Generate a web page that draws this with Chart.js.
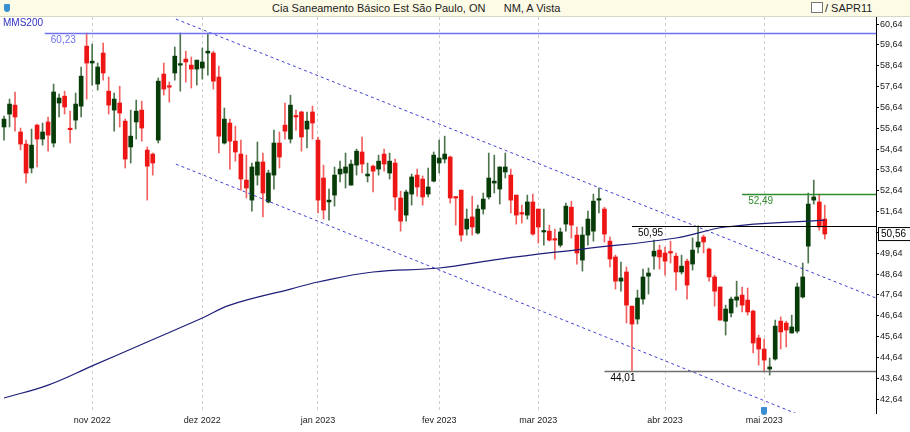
<!DOCTYPE html>
<html>
<head>
<meta charset="utf-8">
<script src="https://cdn.jsdelivr.net/npm/chart.js@4"></script>
<style>
  body { margin: 0; background: #fff; font-family: "Liberation Sans", Arial, sans-serif; }
  #wrap { position: relative; width: 910px; height: 432px; }
  #titleBar { position: absolute; left: 0; top: 0; width: 910px; height: 16px; background: #fdfbe6; border-bottom: 1px solid #d8d8c8; font-size: 11px; color: #222; }
  #titleBar .t { position: absolute; left: 272px; top: 2px; white-space: pre; }
  #titleBar .r { position: absolute; left: 811px; top: 2px; }
  #titleBar .box { display: inline-block; width: 10px; height: 9px; border: 1px solid #777; background: #fff; vertical-align: -1px; margin-right: 2px; }
  #mms { position: absolute; left: 3px; top: 17px; font-size: 10px; color: #3030c0; }
  .shield { position: absolute; width: 6px; height: 8px; background: #3a8fd0; border-radius: 1px 1px 3px 3px; }
</style>
</head>
<body>
<div id="wrap">
  <canvas id="chart" width="910" height="432"></canvas>
  <div id="titleBar">
    <span class="shield" style="left:4px;top:4px"></span>
    <span class="t">Cia Saneamento Básico Est São Paulo, ON      NM, A Vista</span>
    <span class="r"><span class="box"></span>/ SAPR11</span>
  </div>
  <div id="mms">MMS200</div>
  <span class="shield" style="left:761px;top:407px"></span>
</div>
<script>
// Cotações diárias SAPR11 (abertura, máxima, mínima, fechamento)
const opens = [55.70,56.32,56.75,55.46,54.88,53.73,55.79,55.12,55.94,54.93,
  56.85,57.18,55.62,56.03,56.70,59.58,58.77,57.76,59.25,57.42,
  56.51,56.85,55.98,54.74,55.94,56.51,54.59,54.40,55.07,58.24,
  57.66,58.29,58.67,58.96,58.67,58.48,58.53,59.25,59.25,58.10,
  54.93,55.89,55.02,54.40,53.15,52.19,53.39,54.02,52.10,53.39,
  54.93,55.79,55.12,56.22,56.42,55.60,56.42,55.07,53.25,52.10,
  52.43,53.44,53.49,52.91,53.87,54.50,53.35,53.82,53.68,54.40,
  53.49,53.97,52.29,51.47,52.48,53.39,53.20,52.48,53.10,53.97,
  54.16,54.26,52.34,52.67,50.80,51.38,50.61,51.76,52.34,53.01,
  52.72,53.54,53.39,52.43,51.57,51.47,52.10,51.76,50.66,50.70,
  50.32,50.03,51.04,51.85,50.51,49.31,50.51,50.70,52.19,51.76,
  50.22,49.46,48.30,48.74,47.10,46.48,47.44,48.54,49.50,49.79,
  49.65,49.70,49.50,48.74,49.26,49.12,49.94,50.42,49.84,48.50,
  48.02,46.38,46.77,47.39,47.63,47.39,46.86,45.57,45.04,44.08,
  44.56,46.38,46.29,45.81,45.90,47.54,49.98,52.19,52.10,51.28];
const closes = [56.08,56.80,56.18,54.88,53.49,54.83,55.12,55.46,55.31,57.38,
  57.09,56.66,55.57,56.80,58.14,58.77,58.86,58.58,58.29,56.75,
  57.04,56.37,54.16,55.26,56.46,55.65,53.82,53.97,57.90,57.52,
  57.61,59.10,58.72,58.82,58.48,58.91,58.82,59.34,57.90,55.26,
  56.08,55.02,54.50,53.20,52.77,53.78,54.02,52.53,53.49,54.93,
  54.26,55.50,56.75,56.18,55.22,55.98,55.89,52.19,51.71,52.19,
  53.39,53.68,53.78,53.92,54.54,53.92,53.44,53.58,54.06,53.92,
  54.06,52.34,51.18,52.58,53.30,52.82,52.34,52.82,54.35,54.21,
  54.40,52.29,52.29,50.51,51.28,50.90,51.76,52.24,53.25,53.10,
  53.78,53.78,52.19,51.47,51.52,52.10,50.56,50.90,50.70,50.27,
  50.27,50.66,51.90,50.99,49.65,50.51,51.28,52.14,52.24,50.56,
  49.36,48.30,48.45,47.15,46.24,47.49,48.50,48.69,49.74,49.46,
  49.26,49.65,48.74,49.02,48.11,49.79,50.18,50.18,48.50,47.82,
  46.43,46.96,47.44,47.54,47.15,46.82,45.33,45.04,44.51,44.18,
  46.14,45.86,45.95,46.10,48.02,48.50,52.00,52.34,50.90,50.56];
const highs = [56.22,57.04,57.38,55.65,55.07,55.60,55.84,55.89,56.18,57.76,
  57.28,57.42,56.46,57.33,58.58,60.21,59.68,58.77,59.73,58.10,
  57.33,57.66,56.08,56.51,56.99,56.94,54.74,54.45,58.05,58.77,
  57.86,59.54,60.21,59.34,59.06,58.91,59.49,60.21,59.34,58.62,
  56.61,56.08,55.74,55.07,54.35,53.97,54.98,54.45,53.63,55.55,
  55.46,56.85,57.23,56.51,56.46,56.42,56.70,55.22,53.87,52.72,
  53.78,54.06,54.45,54.11,54.64,55.22,53.97,53.87,54.35,54.64,
  54.45,54.16,52.62,52.67,53.44,53.68,53.35,53.73,54.50,55.07,
  55.26,54.30,52.34,52.67,51.76,52.38,51.95,52.53,54.45,54.35,
  53.78,54.45,53.68,52.43,51.95,52.43,52.48,51.76,51.76,50.99,
  50.80,50.85,52.05,52.14,50.90,50.90,51.66,52.48,52.77,51.85,
  50.42,49.55,49.22,48.98,47.10,47.87,48.88,48.93,50.27,50.03,
  49.94,50.22,49.65,49.55,49.36,50.37,50.95,50.51,49.89,48.59,
  48.02,47.15,47.54,48.30,48.02,47.97,46.91,45.71,45.52,44.61,
  46.43,46.58,46.38,46.67,48.21,49.17,52.53,53.15,52.48,51.95];
const lows = [55.07,55.70,55.50,54.60,53.01,53.49,53.78,54.83,54.54,54.74,
  56.18,56.32,54.93,55.60,56.18,57.04,57.71,57.47,57.95,56.32,
  55.50,55.70,53.73,53.97,55.12,55.02,52.19,53.39,54.93,57.23,
  56.90,57.95,57.42,57.86,57.57,57.71,58.00,58.19,57.52,54.45,
  54.88,53.68,54.06,52.67,52.29,51.66,52.91,51.38,52.05,52.72,
  53.73,55.12,54.93,55.55,54.54,54.69,55.12,51.57,51.28,51.23,
  51.90,53.06,52.77,52.91,53.39,53.49,53.06,52.58,53.39,53.58,
  53.20,51.71,50.70,51.18,51.95,52.38,51.95,52.34,53.06,53.49,
  53.97,52.05,50.99,50.22,50.51,50.51,50.56,51.52,52.24,52.53,
  52.00,53.25,51.57,51.04,51.09,51.28,50.51,50.13,50.03,50.22,
  49.36,49.94,50.70,50.37,49.12,48.78,50.03,50.22,51.57,50.18,
  48.98,47.92,47.82,46.29,44.01,46.24,47.20,47.68,48.88,48.88,
  48.59,49.17,47.87,48.64,47.44,48.83,49.65,49.65,48.30,47.10,
  46.43,45.71,46.58,47.06,46.82,46.67,44.85,44.27,43.94,43.79,
  44.51,45.04,45.14,45.81,45.81,47.49,49.17,52.00,50.75,50.32];

// Média móvel de 200 períodos
const mmsIndex = [0, 8, 16, 26, 36, 41, 52, 57, 67, 79, 90, 105, 122, 131, 149];
const mmsValues = [42.69, 43.31, 44.23, 45.38, 46.53, 47.15, 47.92, 48.26, 48.74, 48.93, 49.36, 49.84, 50.37, 50.90, 51.23];

// Canal de tendência (LTB)
const upperChannel = [{ x: 31.2, y: 60.88 }, { x: 158.3, y: 47.49 }];
const lowerChannel = [{ x: 31.2, y: 53.92 }, { x: 144.5, y: 41.87 }];

// Níveis horizontais
const levelValues = [60.23, 52.49, 50.95, 44.01];
const levelStart = [7.4, 134, 114, 109];
const levelColors = ['#6f6ff0', '#2e8b2e', '#000000', '#707070'];
const lastPrice = 50.56;

// Eixos
const monthIndex = [16, 36, 57, 79, 97, 120, 138];
const monthLabels = ['nov 2022', 'dez 2022', 'jan 2023', 'fev 2023', 'mar 2023', 'abr 2023', 'mai 2023'];
const yTicks = [42.64, 43.64, 44.64, 45.64, 46.64, 47.64, 48.64, 49.64, 50.64, 51.64, 52.64, 53.64, 54.64, 55.64, 56.64, 57.64, 58.64, 59.64, 60.64];

const fmt = v => v.toFixed(2).replace('.', ',');
const isUp = opens.map((o, i) => closes[i] >= o);

const levelsPlugin = {
    id: 'levels',
    afterDatasetsDraw(chart) {
        const ctx = chart.ctx;
        const xs = chart.scales.x, ys = chart.scales.y;
        const area = chart.chartArea;
        ctx.save();
        ctx.font = '10px "Liberation Sans", Arial, sans-serif';
        ctx.textBaseline = 'top';
        levelValues.forEach((v, i) => {
            const y = Math.round(ys.getPixelForValue(v)) + 0.5;
            const x0 = xs.getPixelForValue(levelStart[i]);
            ctx.strokeStyle = levelColors[i];
            ctx.lineWidth = i === 2 ? 1 : 1.5;
            ctx.beginPath();
            ctx.moveTo(x0, y);
            ctx.lineTo(area.right, y);
            ctx.stroke();
            ctx.fillStyle = i === 3 ? '#000' : levelColors[i];
            ctx.fillText(fmt(v), x0 + 6, y + 2);
        });
        // caixa do último preço
        const yp = ys.getPixelForValue(lastPrice);
        ctx.fillStyle = '#fff';
        ctx.strokeStyle = '#000';
        ctx.lineWidth = 1;
        ctx.fillRect(area.right + 2.5, yp - 6.5, 32, 13);
        ctx.strokeRect(area.right + 2.5, yp - 6.5, 32, 13);
        ctx.fillStyle = '#000';
        ctx.textBaseline = 'middle';
        ctx.fillText(fmt(lastPrice), area.right + 5, yp);
        ctx.restore();
    }
};

new Chart(document.getElementById('chart'), {
    type: 'bar',
    data: {
        datasets: [
            {
                type: 'line', data: mmsIndex.map((x, i) => ({ x, y: mmsValues[i] })),
                borderColor: '#1e1e7a', borderWidth: 1.2, pointRadius: 0, tension: 0.4, order: 0
            },
            {
                type: 'line', data: upperChannel, borderColor: '#4040d0', borderWidth: 1,
                borderDash: [3, 3], pointRadius: 0, order: 0
            },
            {
                type: 'line', data: lowerChannel, borderColor: '#4040d0', borderWidth: 1,
                borderDash: [3, 3], pointRadius: 0, order: 0
            },
            {
                data: lows.map((l, i) => ({ x: i, y: [l, highs[i]] })),
                backgroundColor: isUp.map(u => u ? '#4f754f' : '#f26060'),
                barThickness: 1, grouped: false, order: 2
            },
            {
                data: opens.map((o, i) => ({ x: i, y: [o, closes[i]] })),
                backgroundColor: isUp.map(u => u ? '#073b07' : '#ee1515'),
                barThickness: 4, minBarLength: 1.5, grouped: false, order: 1
            }
        ]
    },
    options: {
        responsive: false,
        animation: false,
        layout: { padding: { top: 17, left: 0, right: 0, bottom: 0 } },
        plugins: { legend: { display: false }, tooltip: { enabled: false } },
        scales: {
            x: {
                type: 'linear', min: -0.73, max: 158.3, offset: false,
                afterBuildTicks: s => { s.ticks = monthIndex.map(v => ({ value: v })); },
                afterFit: s => { s.height = 19; s.paddingLeft = 0; s.paddingRight = 0; },
                ticks: {
                    autoSkip: false, maxRotation: 0, color: '#222', padding: 2,
                    font: { size: 9, family: '"Liberation Sans", Arial, sans-serif' },
                    callback: v => monthLabels[monthIndex.indexOf(v)] || ''
                },
                grid: { color: '#cfcfcf', drawTicks: false, tickLength: 0, offset: false },
                border: { display: true, color: 'rgba(0,0,0,0)', dash: [3, 3] }
            },
            y: {
                position: 'right', min: 41.97, max: 60.98,
                afterBuildTicks: s => { s.ticks = yTicks.map(v => ({ value: v })); },
                afterFit: s => { s.width = 34; },
                ticks: {
                    color: '#222', padding: 1,
                    font: { size: 9, family: '"Liberation Sans", Arial, sans-serif' },
                    callback: v => fmt(v)
                },
                grid: { drawOnChartArea: false, color: '#000', tickLength: 3 },
                border: { display: true, color: '#000' }
            }
        }
    },
    plugins: [levelsPlugin]
});
</script>
</body>
</html>
